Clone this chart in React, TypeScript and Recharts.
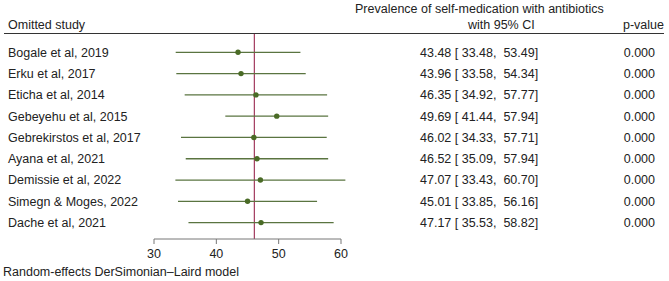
import React from "react";
import {
  ScatterChart,
  Scatter,
  XAxis,
  YAxis,
  ErrorBar,
  ReferenceLine,
} from "recharts";

const STUDIES = [
  "Bogale et al, 2019",
  "Erku et al, 2017",
  "Eticha et al, 2014",
  "Gebeyehu et al, 2015",
  "Gebrekirstos et al, 2017",
  "Ayana et al, 2021",
  "Demissie et al, 2022",
  "Simegn & Moges, 2022",
  "Dache et al, 2021",
];
const ESTIMATES = [43.48, 43.96, 46.35, 49.69, 46.02, 46.52, 47.07, 45.01, 47.17];
const LOWER = [33.48, 33.58, 34.92, 41.44, 34.33, 35.09, 33.43, 33.85, 35.53];
const UPPER = [53.49, 54.34, 57.77, 57.94, 57.71, 57.94, 60.7, 56.16, 58.82];
const P_VALUES = [0, 0, 0, 0, 0, 0, 0, 0, 0];
const X_TICKS = [30, 40, 50, 60];
const POOLED = 46.1;

const font = "'Liberation Sans', Arial, sans-serif";
const textColor = "#222";

const data = STUDIES.map((name, i) => ({
  name,
  row: i + 1,
  est: ESTIMATES[i],
  err: [ESTIMATES[i] - LOWER[i], UPPER[i] - ESTIMATES[i]],
  ci: `${ESTIMATES[i].toFixed(2)} [ ${LOWER[i].toFixed(2)},  ${UPPER[i].toFixed(2)}]`,
  p: P_VALUES[i].toFixed(3),
}));

function RowTick(props: any) {
  const { y, payload } = props;
  const d = data[payload.value - 1];
  if (!d) return null;
  const common = { fontSize: 12.5, fill: textColor, fontFamily: font, dy: "0.35em", y };
  return (
    <g>
      <text {...common} x={8} textAnchor="start">
        {d.name}
      </text>
      <text {...common} x={420} textAnchor="start" style={{ whiteSpace: "pre" }}>
        {d.ci}
      </text>
      <text {...common} x={655} textAnchor="end">
        {d.p}
      </text>
    </g>
  );
}

function Dot(props: any) {
  const { cx, cy } = props;
  return <circle cx={cx} cy={cy} r={2.7} fill="#4a6b26" />;
}

export default function App() {
  const label = (top: number, left: number, text: string, extra: React.CSSProperties = {}) => (
    <div
      style={{
        position: "absolute",
        top: top - 8,
        left,
        height: 16,
        lineHeight: "16px",
        fontSize: 12.5,
        color: textColor,
        whiteSpace: "nowrap",
        ...extra,
      }}
    >
      {text}
    </div>
  );

  return (
    <div
      style={{
        position: "absolute",
        top: 0,
        left: 0,
        width: 669,
        height: 281,
        background: "#fff",
        fontFamily: font,
      }}
    >
      <ScatterChart
        width={669}
        height={281}
        margin={{ top: 34, right: 328, bottom: 0, left: 0 }}
      >
        <XAxis
          type="number"
          dataKey="est"
          domain={[30, 60]}
          ticks={X_TICKS}
          interval={0}
          allowDataOverflow
          height={42}
          stroke="#777"
          tickSize={5}
          tickMargin={5}
          tick={{ fontSize: 12.5, fill: textColor, fontFamily: font }}
        />
        <YAxis
          type="number"
          dataKey="row"
          domain={[0.14, 9.77]}
          reversed
          allowDataOverflow
          ticks={data.map((d) => d.row)}
          interval={0}
          width={154}
          axisLine={false}
          tickLine={false}
          tick={<RowTick />}
        />
        <ReferenceLine x={POOLED} stroke="#a23a5e" strokeWidth={1.2} />
        <Scatter data={data} shape={<Dot />} isAnimationActive={false}>
          <ErrorBar
            dataKey="err"
            direction="x"
            width={0}
            stroke="#5a7440"
            strokeWidth={1.3}
            isAnimationActive={false}
          />
        </Scatter>
      </ScatterChart>
      <div
        style={{
          position: "absolute",
          top: 33,
          left: 4,
          width: 660,
          height: 0,
          borderTop: "1.2px solid #333",
        }}
      />
      {label(25, 8, "Omitted study")}
      {label(9, 355, "Prevalence of self-medication with antibiotics")}
      {label(25, 468, "with 95% CI")}
      {label(25, 620, "p-value", { width: 44, textAlign: "right" })}
      {label(272, 3, "Random-effects DerSimonian\u2013Laird model")}
    </div>
  );
}
